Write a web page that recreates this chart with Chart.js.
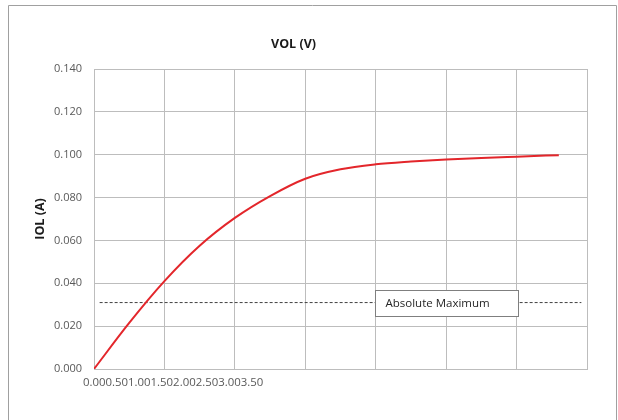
<!DOCTYPE html>
<html>
<head>
<meta charset="utf-8">
<script src="https://cdn.jsdelivr.net/npm/chart.js@4/dist/chart.umd.min.js"></script>
<style>
  html, body { margin: 0; padding: 0; background: #ffffff; }
  canvas { display: block; }
</style>
</head>
<body>
<canvas id="c" width="618" height="420"></canvas>
<script>
// ---- data ----
const chartTitle = 'VOL (V)';
const yTitle = 'IOL (A)';
const xTickLabels = ['0.00', '0.50', '1.00', '1.50', '2.00', '2.50', '3.00', '3.50'];
const vol = [0, 0.25, 0.5, 0.75, 1.0, 1.25, 1.5, 1.75, 2.0, 2.25, 2.5, 2.75, 3.0, 3.3];
const iol = [0, 0.0215, 0.041, 0.0575, 0.0705, 0.0807, 0.0888, 0.0932, 0.0955, 0.0968, 0.0978, 0.0985, 0.0991, 0.0998];
const limitX = [0.04, 3.46];
const limitY = [0.031, 0.031];
const limitLabel = 'Absolute Maximum';
const limitLabelX = 2.5;

const FONT = "'Open Sans', 'Liberation Sans', sans-serif";
const GRID = '#bdbdbd';

const frame = {
  id: 'frame',
  beforeDraw(chart) {
    const ctx = chart.ctx;
    ctx.save();
    ctx.fillStyle = '#ffffff';
    ctx.fillRect(0, 0, chart.width, chart.height);
    ctx.strokeStyle = '#a0a0a0';
    ctx.lineWidth = 1;
    ctx.beginPath();
    ctx.moveTo(8.5, chart.height);
    ctx.lineTo(8.5, 5.5);
    ctx.lineTo(616.5, 5.5);
    ctx.lineTo(616.5, chart.height);
    ctx.stroke();
    ctx.restore();
  }
};

const squeezedTicks = {
  id: 'squeezedTicks',
  afterDraw(chart) {
    const ctx = chart.ctx;
    const xs = chart.scales.x;
    ctx.save();
    ctx.font = '11.4px ' + FONT;
    ctx.fillStyle = '#595959';
    ctx.textAlign = 'left';
    ctx.textBaseline = 'middle';
    ctx.fillText(xTickLabels.join(''), xs.getPixelForValue(0) - 11, xs.top + 14);
    ctx.restore();
  }
};

const limitBox = {
  id: 'limitBox',
  afterDatasetsDraw(chart) {
    const ctx = chart.ctx;
    const cx = chart.scales.x.getPixelForValue(limitLabelX);
    const cy = chart.scales.y.getPixelForValue(limitY[0]);
    const w = 143, h = 26;
    const x0 = Math.round(cx - w / 2) + 0.5, y0 = Math.round(cy - h / 2) + 0.5;
    ctx.save();
    ctx.fillStyle = '#ffffff';
    ctx.fillRect(x0, y0, w, h);
    ctx.strokeStyle = '#7f7f7f';
    ctx.lineWidth = 1;
    ctx.strokeRect(x0, y0, w, h);
    ctx.font = '11.5px ' + FONT;
    ctx.fillStyle = '#262626';
    ctx.textAlign = 'left';
    ctx.textBaseline = 'middle';
    ctx.fillText(limitLabel, x0 + 10, y0 + h / 2);
    ctx.restore();
  }
};

new Chart(document.getElementById('c'), {
  type: 'scatter',
  data: {
    datasets: [
      {
        label: 'IOL',
        data: vol.map((v, i) => ({ x: v, y: iol[i] })),
        showLine: true,
        borderColor: '#e3262b',
        borderWidth: 2,
        pointRadius: 0,
        cubicInterpolationMode: 'monotone',
        fill: false
      },
      {
        label: limitLabel,
        data: limitX.map((v, i) => ({ x: v, y: limitY[i] })),
        showLine: true,
        borderColor: '#404040',
        borderWidth: 1,
        borderDash: [3, 2],
        pointRadius: 0,
        fill: false
      }
    ]
  },
  options: {
    responsive: false,
    animation: false,
    layout: { padding: { left: 0, right: 31, top: 0, bottom: 0 } },
    plugins: {
      legend: { display: false },
      tooltip: { enabled: false },
      title: {
        display: true,
        text: chartTitle,
        color: '#1a1a1a',
        font: { family: FONT, size: 12.5, weight: 'bold' },
        padding: { top: 37, bottom: 17 }
      }
    },
    scales: {
      x: {
        type: 'linear',
        min: 0,
        max: 3.5,
        ticks: { stepSize: 0.5, display: false },
        grid: { color: GRID, drawTicks: false },
        border: { color: GRID },
        afterFit(s) { s.height = 51; }
      },
      y: {
        type: 'linear',
        min: 0,
        max: 0.14,
        ticks: {
          stepSize: 0.02,
          padding: 12,
          color: '#595959',
          font: { family: FONT, size: 11 },
          callback: v => v.toFixed(3)
        },
        grid: { color: GRID, drawTicks: false },
        border: { color: GRID },
        title: {
          display: true,
          text: yTitle,
          color: '#1a1a1a',
          font: { family: FONT, size: 12.5, weight: 'bold' },
          padding: { top: 32.5, bottom: 0 }
        },
        afterFit(s) { s.width = 94; }
      }
    }
  },
  plugins: [frame, squeezedTicks, limitBox]
});
</script>
</body>
</html>
